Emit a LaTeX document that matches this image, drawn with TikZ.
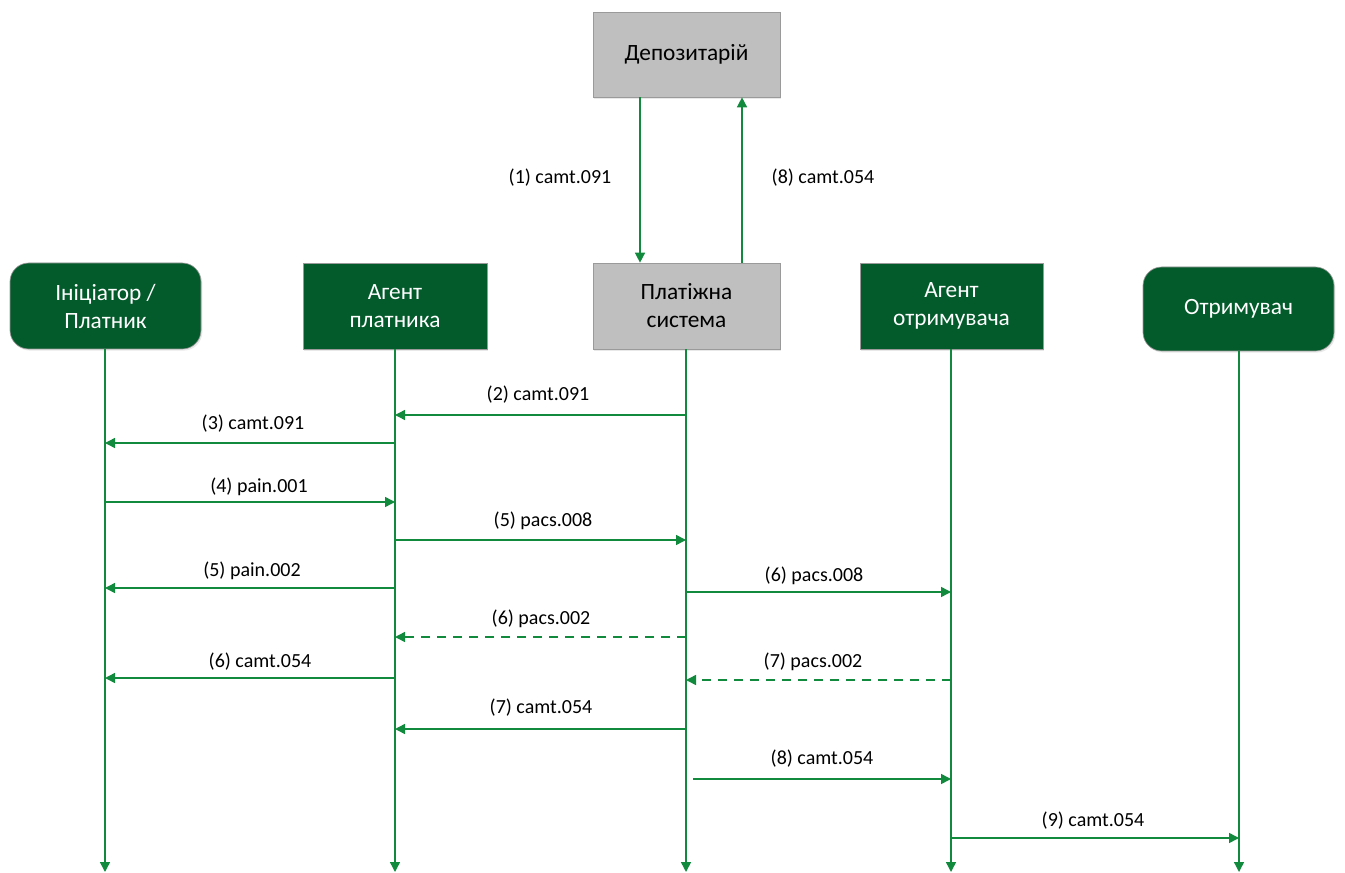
\documentclass[tikz,border=0pt]{standalone}
\usepackage{fontspec}
\setmainfont{Carlito}
\usetikzlibrary{arrows.meta,shadows}
\definecolor{boxgreen}{HTML}{035A2B}
\definecolor{linegreen}{HTML}{128A3E}
\definecolor{boxgrey}{HTML}{BFBFBF}
\definecolor{edgegrey}{HTML}{9A9A9A}
\begin{document}
\begin{tikzpicture}[x=0.75pt,y=-0.75pt,
  actor/.style={draw=edgegrey,line width=0.5pt,fill=boxgreen,text=white,align=center,
    font=\fontsize{17.5}{21}\selectfont,inner sep=0pt,
    drop shadow={opacity=0.18,shadow xshift=1pt,shadow yshift=-1.2pt}},
  roundactor/.style={actor,rounded corners=14pt},
  greybox/.style={actor,fill=boxgrey,text=black},
  msg/.style={draw=linegreen,line width=1.1pt,-{Triangle[length=7.5pt,width=7.5pt]}},
  reply/.style={msg,dash pattern=on 7pt off 5pt},
  life/.style={msg},
  lbl/.style={font=\fontsize{15}{18}\selectfont,text=black,inner sep=1pt}]
\useasboundingbox (0,0) rectangle (1345,873);

% boxes
\node[greybox,minimum width=140.25pt,minimum height=63.75pt] (dep) at (686.5,54.5) {Депозитарій};
\node[greybox,minimum width=140.25pt,minimum height=64.5pt] (ps) at (686.5,306) {Платіжна\\система};
\node[roundactor,minimum width=143.25pt,minimum height=64.5pt] (init) at (105.5,306) {Ініціатор /\\Платник};
\node[actor,minimum width=138pt,minimum height=64.5pt] (ap) at (395,306) {Агент\\платника};
\node[actor,minimum width=137.25pt,minimum height=64.5pt] (ar) at (951.5,306) {Агент\\отримувача};
\node[roundactor,minimum width=143.25pt,minimum height=63pt] (rec) at (1238.5,309) {Отримувач};

% lifeline ends
\coordinate (initend) at (105,872);
\coordinate (apend) at (395,872);
\coordinate (psend) at (686,872);
\coordinate (arend) at (951,872);
\coordinate (recend) at (1239,872);

\draw[life] (init.south -| initend) -- (initend);
\draw[life] (ap.south -| apend) -- (apend);
\draw[life] (ps.south -| psend) -- (psend);
\draw[life] (ar.south -| arend) -- (arend);
\draw[life] (rec.south -| recend) -- (recend);

% depository exchange
\draw[msg] (dep.south -| 640,0) -- (ps.north -| 640,0);
\draw[msg] (ps.north -| 742,0) -- (dep.south -| 742,0);
\node[lbl] (l1) at (560,178) {(1) camt.091};
\node[lbl] (l8a) at (823,178) {(8) camt.054};

% messages
\draw[msg] (psend |- 0,415) -- (apend |- 0,415);
\node[lbl] (m2) at (538,395) {(2) camt.091};

\draw[msg] (apend |- 0,443) -- (initend |- 0,443);
\node[lbl] (m3) at (253,424) {(3) camt.091};

\draw[msg] (initend |- 0,502) -- (apend |- 0,502);
\node[lbl] (m4) at (259,487) {(4) pain.001};

\draw[msg] (apend |- 0,540) -- (psend |- 0,540);
\node[lbl] (m5a) at (543,521) {(5) pacs.008};

\draw[msg] (apend |- 0,588) -- (initend |- 0,588);
\node[lbl] (m5b) at (252,571) {(5) pain.002};

\draw[msg] (psend |- 0,592) -- (arend |- 0,592);
\node[lbl] (m6a) at (814,576) {(6) pacs.008};

\draw[reply] (psend |- 0,637) -- (apend |- 0,637);
\node[lbl] (m6b) at (541,619) {(6) pacs.002};

\draw[msg] (apend |- 0,678) -- (initend |- 0,678);
\node[lbl] (m6c) at (260,662) {(6) camt.054};

\draw[reply] (arend |- 0,680) -- (psend |- 0,680);
\node[lbl] (m7a) at (813,662) {(7) pacs.002};

\draw[msg] (psend |- 0,729) -- (apend |- 0,729);
\node[lbl] (m7b) at (541,708) {(7) camt.054};

\coordinate (m8start) at (693,779);
\draw[msg] (m8start) -- (arend |- m8start);
\node[lbl] (m8) at (822,759) {(8) camt.054};

\draw[msg] (arend |- 0,838) -- (recend |- 0,838);
\node[lbl] (m9) at (1093,821) {(9) camt.054};
\end{tikzpicture}
\end{document}
